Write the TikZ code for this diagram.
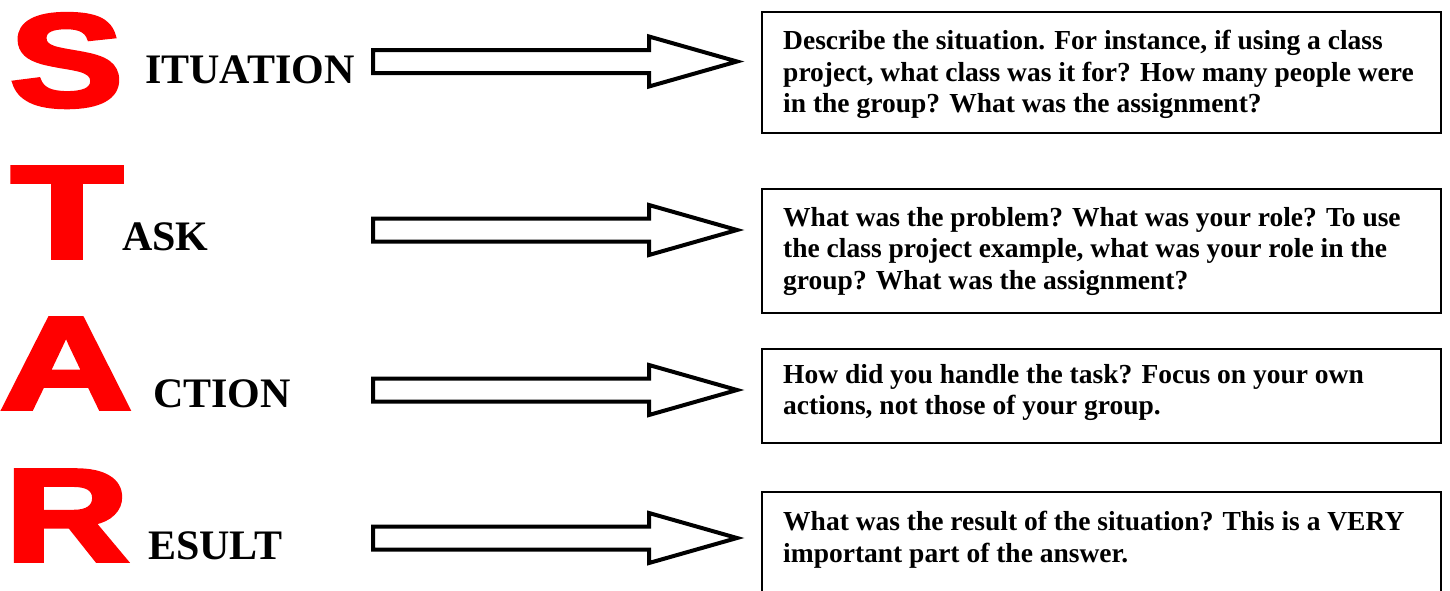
\documentclass[tikz,border=0pt]{standalone}
\usepackage{fontspec}
\setmainfont{Liberation Serif}
\newfontfamily\bigsans[FakeBold=3]{Liberation Sans Bold}
\definecolor{starred}{RGB}{255,0,0}
\begin{document}
\begin{tikzpicture}[x=1pt,y=-1pt,
  bigletter/.style={font=\bigsans\fontsize{132}{132}\selectfont, text=starred, inner sep=0pt, anchor=base},
  word/.style={font=\bfseries\fontsize{42}{42}\selectfont, inner sep=0pt, anchor=base west},
  infobox/.style={draw, line width=2pt, anchor=north west, inner sep=0pt, minimum width=679pt},
  infotext/.style={font=\bfseries\fontsize{27.5}{31.5}\selectfont, inner sep=0pt, anchor=north west, align=left},
  blockarrow/.pic={\draw[line width=4pt, line join=miter] (0,-11.5) -- (276,-11.5) -- (276,-25) -- (364,0) -- (276,25) -- (276,11.5) -- (0,11.5) -- cycle;}
]
\useasboundingbox (0,0) rectangle (1450,590);
\clip (0,0) rectangle (1450,590);
% big letters
\node[bigletter] (S) at (66.5,106) {\scalebox{1.29}[1]{S}};
\node[bigletter] (T) at (67,258) {\scalebox{1.39}[1]{T}};
\node[bigletter] (A) at (66,409) {\scalebox{1.39}[1]{A}};
\node[bigletter] (R) at (67,561) {\scalebox{1.3}[1]{R}};
% words
\node[word] (wS) at (145,83) {ITUATION};
\node[word] (wT) at (122,250) {ASK};
\node[word] (wA) at (153,407) {CTION};
\node[word] (wR) at (148,559) {ESULT};
% arrows
\pic (aS) at (373,61.5) {blockarrow};
\pic (aT) at (373,230) {blockarrow};
\pic (aA) at (373,390) {blockarrow};
\pic (aR) at (373,538) {blockarrow};
% boxes
\node[infobox, minimum height=121pt] (bS) at (761,11) {};
\node[infobox, minimum height=124pt] (bT) at (761,188) {};
\node[infobox, minimum height=94pt] (bA) at (761,348) {};
\node[infobox, minimum height=130pt] (bR) at (761,491) {};
% texts
\node[infotext] (tS) at (783,30) {Describe the situation. For instance, if using a class\\project, what class was it for? How many people were\\in the group? What was the assignment?};
\node[infotext] (tT) at (783,207) {What was the problem? What was your role? To use\\the class project example, what was your role in the\\group? What was the assignment?};
\node[infotext] (tA) at (783,364) {How did you handle the task? Focus on your own\\actions, not those of your group.};
\node[infotext] (tR) at (783,511) {What was the result of the situation? This is a VERY\\important part of the answer.};
\end{tikzpicture}
\end{document}
